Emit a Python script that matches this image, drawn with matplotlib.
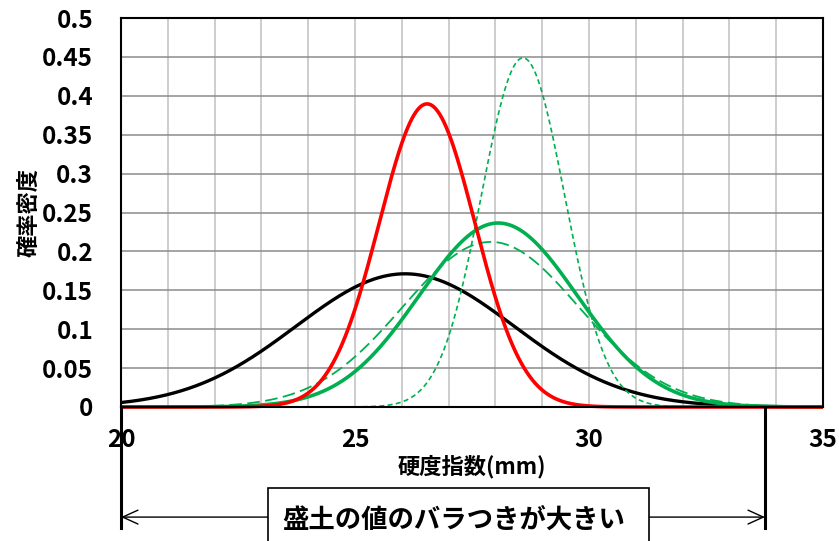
import numpy as np
import matplotlib.pyplot as plt
from matplotlib.patches import Rectangle

# normal distribution parameters (mean, std) in mm
curve_names = ["black", "green_dot", "green_dash", "green", "red"]
means = [26.07, 28.59, 27.9, 28.06, 26.54]
sigmas = [2.33, 0.889, 1.88, 1.687, 1.024]
colors = ["black", "#00B050", "#00B050", "#00B050", "#FF0000"]
widths = [2.4, 1.2, 1.3, 2.6, 2.6]
dashes = [None, (3, 2), (7, 3), None, None]

x_ticks = [20, 25, 30, 35]
y_ticks = [0, 0.05, 0.1, 0.15, 0.2, 0.25, 0.3, 0.35, 0.4, 0.45, 0.5]
y_labels = ["0", "0.05", "0.1", "0.15", "0.2", "0.25", "0.3", "0.35", "0.4", "0.45", "0.5"]

x_label = "硬度指数(mm)"
y_label = "確率密度"
note = "盛土の値のバラつきが大きい"
range_end = 33.76

num_font = ["Liberation Sans Narrow", "Noto Sans CJK JP", "DejaVu Sans"]
jp_font = ["Noto Sans CJK JP", "DejaVu Sans"]

fig = plt.figure(figsize=(8.39, 5.41), dpi=100)
ax = fig.add_axes([121 / 839, 1 - 407 / 541, 702 / 839, 389 / 541])

xs = np.linspace(20, 35, 1500)
for mu, sd, c, lw, ds in zip(means, sigmas, colors, widths, dashes):
    pdf = np.exp(-0.5 * ((xs - mu) / sd) ** 2) / (sd * np.sqrt(2 * np.pi))
    line, = ax.plot(xs, pdf, color=c, lw=lw, solid_capstyle="butt", clip_on=False)
    if ds is not None:
        line.set_dashes(ds)

ax.set_xlim(20, 35)
ax.set_ylim(0, 0.5)
ax.set_xticks(x_ticks)
ax.set_xticks(np.arange(20, 36, 1), minor=True)
ax.set_yticks(y_ticks)
ax.set_yticklabels(y_labels)
ax.grid(True, which="minor", axis="x", color="#c0c0c0", lw=1.1)
ax.grid(True, which="major", axis="x", color="#c0c0c0", lw=1.1)
ax.grid(True, axis="y", color="#8c8c8c", lw=1.1)
ax.set_axisbelow(True)
ax.tick_params(which="both", length=0)
ax.tick_params(axis="x", pad=15)
ax.tick_params(axis="y", pad=20)
for lab in ax.get_xticklabels() + ax.get_yticklabels():
    lab.set_fontfamily(num_font)
    lab.set_fontsize(17.5)
    lab.set_fontweight("bold")
for s in ax.spines.values():
    s.set_color("black")
    s.set_linewidth(1.5)

ax.set_xlabel(x_label, family=jp_font, fontsize=16, fontweight="bold", labelpad=2)
ax.set_ylabel(y_label, family=jp_font, fontsize=16, fontweight="bold")
ax.yaxis.set_label_coords(-0.115, 0.5)

# range annotation below the axis
tr = ax.get_xaxis_transform()
ax.plot([20, 20], [0, -0.31], color="black", lw=2.2, transform=tr, clip_on=False)
ax.plot([range_end, range_end], [0, -0.31], color="black", lw=2.2, transform=tr, clip_on=False)
ax.annotate("", xy=(20, -0.283), xytext=(range_end, -0.283), xycoords=tr, textcoords=tr,
            arrowprops=dict(arrowstyle="<->,head_length=1.1,head_width=0.5", color="black",
                            lw=1.0, shrinkA=0, shrinkB=0), zorder=3)
ax.add_patch(Rectangle((0.2094, -0.45), 0.5426, 0.242, transform=ax.transAxes,
                       fc="white", ec="black", lw=1.2, clip_on=False, zorder=4))
ax.text(0.474, -0.292, note, transform=ax.transAxes, ha="center", va="center",
        family=jp_font, fontsize=19, fontweight="bold", zorder=5)

fig.savefig("out.png", dpi=100)
